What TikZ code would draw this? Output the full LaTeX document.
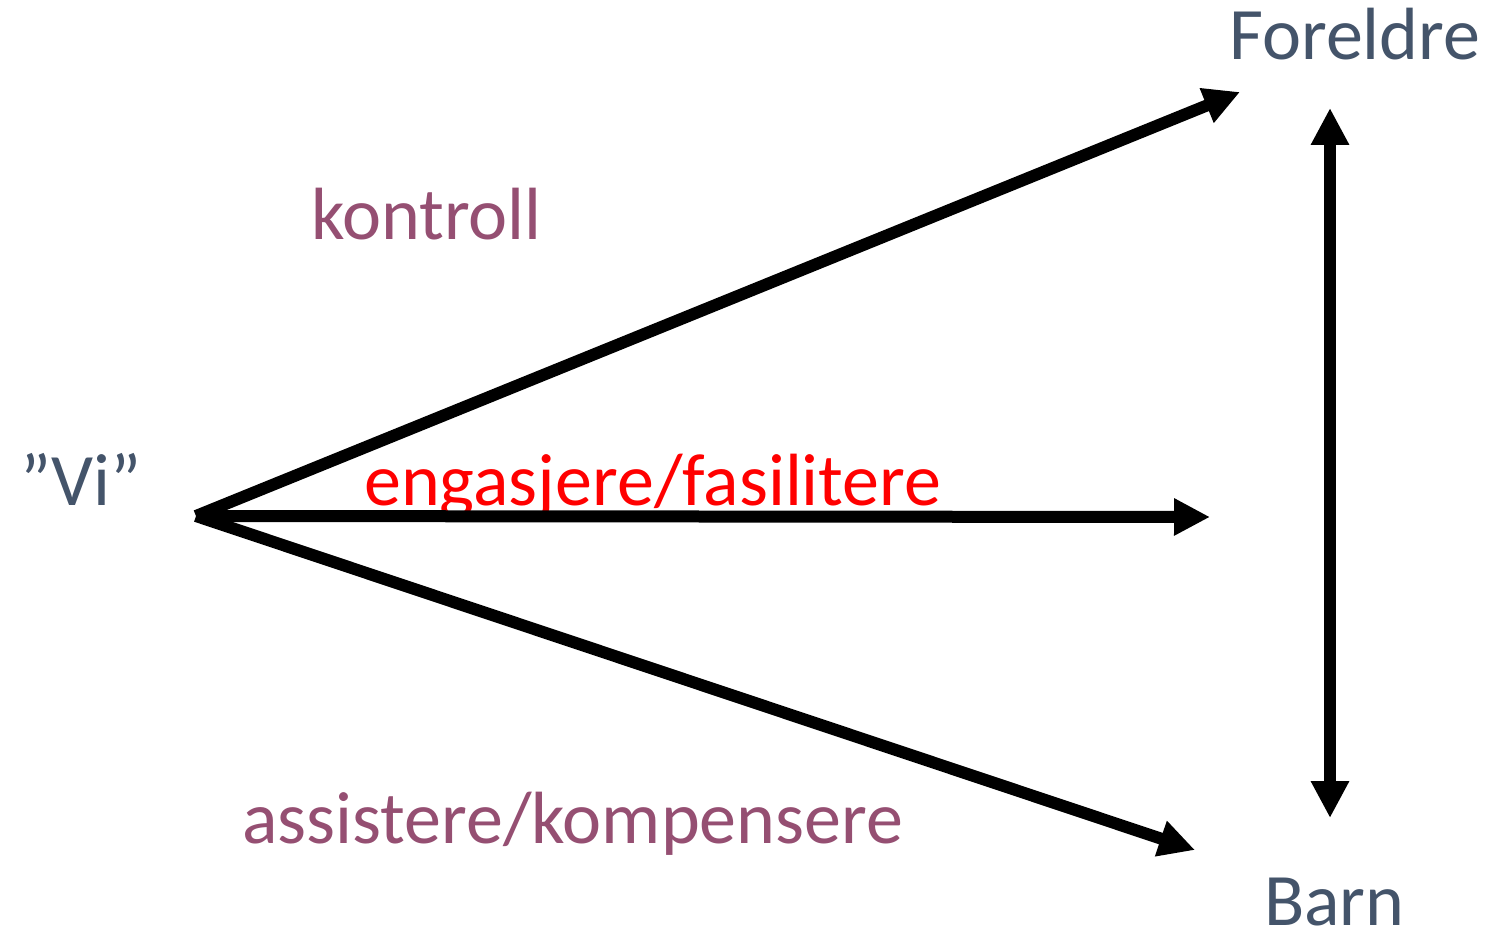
\documentclass[tikz,border=0pt]{standalone}
\usepackage{fontspec}
\setmainfont{Carlito}
\usetikzlibrary{arrows.meta}
\definecolor{slate}{HTML}{44546A}
\definecolor{plum}{HTML}{954F72}
\begin{document}
\begin{tikzpicture}[x=1pt,y=-1pt,
  lbl/.style={anchor=base west,inner sep=0pt,font=\fontsize{74}{82}\selectfont},
  arr/.style={line width=12pt,-{Triangle[length=36pt,width=35pt]}},
  darr/.style={line width=12pt,{Triangle[length=37pt,width=36pt]}-{Triangle[length=37pt,width=36pt]}}]
\useasboundingbox (0,0) rectangle (1488,936);
\node[lbl,text=slate] (par) at (1229,60) {Foreldre};
\node[lbl,text=slate] (vi) at (20,505) {”Vi”};
\node[lbl,text=slate] (barn) at (1264,925) {Barn};
\node[lbl,text=plum] (ctl) at (311,239) {kontroll};
\node[lbl,text=red] (eng) at (364,505) {engasjere/fasilitere};
\node[lbl,text=plum] (ass) at (242,843) {assistere/kompensere};
\coordinate (o) at (196,516);
\coordinate (t1) at (1240,92);
\coordinate (t2) at (1210,517);
\coordinate (t3) at (1195,850);
\coordinate (vt) at (1330,108);
\coordinate (vb) at (1330,818);
\draw[arr] (o) -- (t1);
\draw[arr] (o) -- (t2);
\draw[arr] (o) -- (t3);
\draw[darr] (vt) -- (vb);
\end{tikzpicture}
\end{document}
